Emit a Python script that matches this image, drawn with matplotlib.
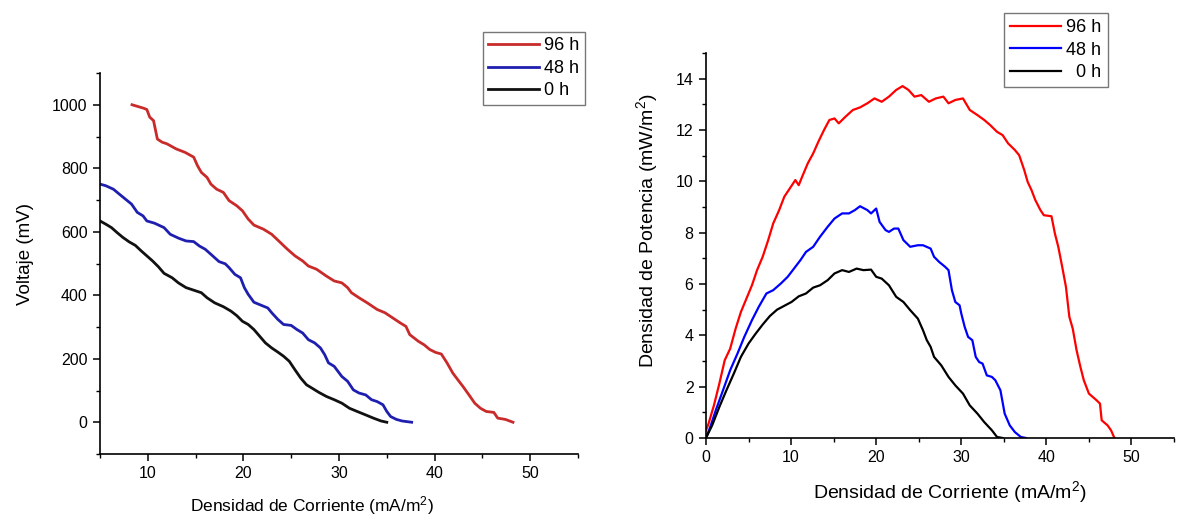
import matplotlib
matplotlib.use("Agg")
import matplotlib.pyplot as plt
from matplotlib.ticker import MultipleLocator

plt.rcParams['font.family'] = ['Liberation Sans', 'DejaVu Sans']
plt.rcParams['mathtext.fontset'] = 'custom'
plt.rcParams['mathtext.rm'] = 'Liberation Sans'
plt.rcParams['mathtext.it'] = 'Liberation Sans:italic'

labels = ["96 h", "48 h", "0 h"]

# ---- Left panel: Voltage (mV) vs current density (mA/m2) ----
v96_x = [8.35, 9.57, 9.9, 10.2, 10.6, 11.0, 11.5, 12.0, 12.96, 13.9, 14.8, 15.2, 15.6, 16.2, 16.6,
         17.2, 17.9, 18.5, 19.3, 19.9, 20.5, 21.1, 22.1, 22.96, 23.8, 24.6, 25.4, 26.2, 26.8, 27.65,
         28.7, 29.5, 30.3, 30.9, 31.3, 32.1, 32.96, 34.0, 34.8, 35.6, 36.4, 37.0, 37.4, 38.3, 38.9,
         39.5, 40.1, 40.7, 41.3, 41.9, 42.55, 42.96, 43.6, 44.2, 44.8, 45.4, 46.2, 46.6, 47.4, 48.2]
v96_y = [1000, 989, 985, 961, 950, 892, 882, 877, 861, 850, 835, 808, 787, 771, 750,
         734, 724, 698, 682, 666, 640, 621, 608, 592, 568, 545, 524, 508, 492, 482,
         460, 445, 439, 424, 408, 392, 376, 355, 345, 329, 313, 302, 276, 255, 244,
         229, 220, 215, 187, 155, 129, 113, 86, 60, 44, 34, 31, 13, 9, 0]

v48_x = [5.0, 5.6, 6.4, 7.0, 7.65, 8.3, 8.9, 9.5, 9.9, 10.7, 11.7, 12.35, 13.2, 14.0, 14.8,
         15.4, 16.0, 16.6, 17.45, 18.1, 18.5, 19.1, 19.7, 20.1, 20.5, 21.1, 21.9, 22.55, 22.96,
         23.6, 24.2, 25.0, 25.6, 26.2, 26.8, 27.45, 28.06, 28.5, 28.9, 29.5, 29.9, 30.3, 30.9,
         31.5, 32.1, 32.8, 33.4, 34.0, 34.6, 35.0, 35.4, 36.0, 36.6, 37.6]
v48_y = [750, 745, 734, 719, 703, 687, 661, 650, 634, 627, 613, 592, 580, 571, 569,
         555, 545, 529, 506, 499, 487, 466, 455, 424, 403, 378, 368, 360, 345,
         324, 308, 305, 292, 281, 260, 250, 234, 213, 187, 176, 160, 144, 129,
         102, 92, 86, 71, 65, 55, 34, 18, 9, 4, 0]

v0_x = [5.0, 5.6, 6.2, 6.8, 7.4, 8.06, 8.7, 9.3, 9.9, 10.5, 11.1, 11.7, 12.55, 13.2, 14.0,
        14.8, 15.6, 16.2, 17.0, 17.9, 18.7, 19.3, 19.9, 20.5, 21.1, 21.7, 22.3, 22.96, 23.6,
        24.2, 24.8, 25.4, 26.0, 26.6, 27.2, 27.9, 28.7, 29.5, 30.3, 31.1, 31.9, 32.8, 33.6,
        34.4, 35.0]
v0_y = [634, 624, 613, 597, 582, 568, 557, 540, 524, 508, 490, 469, 455, 439, 424,
        416, 408, 392, 376, 364, 350, 336, 318, 308, 292, 271, 250, 234, 221,
        208, 192, 165, 139, 118, 107, 94, 81, 71, 60, 44, 34, 23, 13,
        4, 0]

# ---- Right panel: Power density (mW/m2) vs current density (mA/m2) ----
p96_x = [0, 0.3, 0.93, 1.57, 2.2, 2.84, 3.48, 4.1, 4.75, 5.4, 6.0, 6.66, 7.3, 7.9, 8.6, 9.2,
         9.84, 10.5, 10.9, 11.3, 11.96, 12.6, 13.2, 13.87, 14.5, 15.1, 15.6, 16.4, 17.26, 18.1,
         18.96, 19.8, 20.65, 21.5, 22.35, 23.1, 23.8, 24.5, 25.3, 26.2, 27.0, 27.9, 28.5, 29.3,
         30.2, 31.0, 31.9, 32.7, 33.4, 34.2, 34.86, 35.5, 36.3, 36.8, 37.4, 37.8, 38.25, 38.7,
         39.3, 39.7, 40.6, 41.0, 41.4, 41.86, 42.3, 42.7, 43.1, 43.55, 44.0, 44.4, 45.0, 45.9,
         46.3, 46.5, 47.2, 47.6, 48.0]
p96_y = [0.3, 0.56, 1.27, 2.12, 3.03, 3.48, 4.26, 4.91, 5.43, 5.95, 6.54, 7.06, 7.7, 8.36, 8.88, 9.4,
         9.72, 10.05, 9.85, 10.18, 10.7, 11.09, 11.54, 12.0, 12.39, 12.45, 12.26, 12.52, 12.78, 12.88,
         13.04, 13.23, 13.1, 13.3, 13.56, 13.71, 13.56, 13.3, 13.36, 13.1, 13.23, 13.3, 13.04, 13.17,
         13.23, 12.78, 12.58, 12.39, 12.19, 11.93, 11.8, 11.48, 11.22, 11.02, 10.44, 9.98, 9.66, 9.27,
         8.88, 8.68, 8.64, 7.97, 7.45, 6.67, 5.89, 4.72, 4.26, 3.42, 2.77, 2.25, 1.73, 1.47,
         1.34, 0.69, 0.49, 0.3, 0]

p48_x = [0, 0.5, 1.15, 2.0, 2.84, 3.7, 4.5, 5.4, 6.2, 7.1, 7.9, 8.8, 9.6, 10.5, 11.1, 11.75,
         12.6, 13.4, 14.3, 15.1, 16.0, 16.8, 17.5, 18.1, 18.96, 19.4, 20.0, 20.4, 21.1, 21.5,
         22.1, 22.6, 23.2, 24.0, 24.9, 25.5, 26.4, 26.8, 27.4, 28.1, 28.5, 28.9, 29.3, 29.8,
         30.0, 30.4, 30.8, 31.3, 31.7, 32.1, 32.5, 33.0, 33.6, 34.0, 34.6, 35.1, 35.7, 36.3,
         37.0, 37.6]
p48_y = [0, 0.43, 1.08, 1.86, 2.64, 3.29, 3.94, 4.59, 5.11, 5.63, 5.76, 6.02, 6.28, 6.67, 6.93, 7.25,
         7.45, 7.84, 8.23, 8.55, 8.75, 8.75, 8.88, 9.03, 8.88, 8.75, 8.94, 8.42, 8.1, 8.03,
         8.16, 8.16, 7.71, 7.45, 7.51, 7.51, 7.38, 7.06, 6.86, 6.67, 6.54, 5.76, 5.3, 5.17,
         4.85, 4.33, 3.94, 3.81, 3.16, 2.96, 2.9, 2.44, 2.38, 2.25, 1.86, 0.95, 0.49, 0.23,
         0.04, 0]

p0_x = [0, 0.72, 1.57, 2.4, 3.27, 4.1, 5.0, 5.8, 6.66, 7.5, 8.35, 9.2, 10.05, 10.9, 11.75,
        12.6, 13.4, 14.3, 15.1, 16.0, 16.8, 17.7, 18.5, 19.4, 20.0, 20.65, 21.5, 22.35, 23.2,
        24.0, 24.9, 25.5, 25.95, 26.4, 26.8, 27.65, 28.5, 29.3, 30.2, 31.0, 31.9, 32.7, 33.6,
        34.2, 34.86]
p0_y = [0, 0.49, 1.21, 1.86, 2.51, 3.16, 3.68, 4.05, 4.42, 4.75, 5.0, 5.15, 5.3, 5.52, 5.63,
        5.86, 5.95, 6.15, 6.41, 6.54, 6.47, 6.6, 6.54, 6.56, 6.28, 6.21, 5.95, 5.5, 5.3,
        4.98, 4.65, 4.2, 3.81, 3.55, 3.16, 2.83, 2.38, 2.05, 1.73, 1.27, 0.95, 0.62, 0.3,
        0.04, 0]

left_colors = ['#c92a2a', '#1f1faf', '#111111']
right_colors = ['#ff0000', '#0000ff', '#000000']

fig = plt.figure(figsize=(11.78, 5.15), dpi=100)
fig.patch.set_facecolor('white')

W, H = 1178, 515
axL = fig.add_axes([100 / W, (H - 454) / H, 478 / W, 381 / H])
axR = fig.add_axes([706 / W, (H - 438) / H, 468 / W, 385 / H])


def style(ax, tick_fs):
    for s in ['top', 'right']:
        ax.spines[s].set_visible(False)
    for s in ['left', 'bottom']:
        ax.spines[s].set_linewidth(1.2)
    ax.tick_params(which='major', direction='out', length=5, width=1.1,
                   labelsize=tick_fs, pad=4)
    ax.tick_params(which='minor', direction='out', length=3, width=1.0)


# Left
for xs, ys, c, lab in zip([v96_x, v48_x, v0_x], [v96_y, v48_y, v0_y], left_colors, labels):
    axL.plot(xs, ys, color=c, lw=2.0, label=lab)
axL.set_xlim(5, 55)
axL.set_ylim(-100, 1100)
axL.xaxis.set_major_locator(MultipleLocator(10))
axL.xaxis.set_minor_locator(MultipleLocator(5))
axL.yaxis.set_major_locator(MultipleLocator(200))
axL.yaxis.set_minor_locator(MultipleLocator(100))
style(axL, 11.5)
axL.set_xticks([10, 20, 30, 40, 50])
axL.text(0.444, -0.134, r'Densidad de Corriente (mA/m$^{2}$)', transform=axL.transAxes,
         ha='center', va='center', fontsize=12.5)
axL.text(-0.155, 0.526, 'Voltaje (mV)', transform=axL.transAxes, rotation=90,
         ha='center', va='center', fontsize=13.5)
legL = fig.legend(handles=axL.get_lines(), labels=labels, loc='upper right',
                  bbox_to_anchor=(585 / W, 1 - 32 / H), fontsize=13, frameon=True,
                  fancybox=False, handlelength=2.8, handletextpad=0.3, labelspacing=0.3,
                  borderpad=0.3, borderaxespad=0)
legL.get_frame().set_edgecolor('#555555')
legL.get_frame().set_linewidth(1.0)

# Right
for xs, ys, c, lab in zip([p96_x, p48_x, p0_x], [p96_y, p48_y, p0_y], right_colors, labels):
    axR.plot(xs, ys, color=c, lw=1.6, label=lab)
axR.set_xlim(0, 55)
axR.set_ylim(0, 15)
axR.xaxis.set_major_locator(MultipleLocator(10))
axR.xaxis.set_minor_locator(MultipleLocator(5))
axR.yaxis.set_major_locator(MultipleLocator(2))
axR.yaxis.set_minor_locator(MultipleLocator(1))
style(axR, 11.5)
axR.set_xticks([0, 10, 20, 30, 40, 50])
axR.set_yticks([0, 2, 4, 6, 8, 10, 12, 14])
axR.text(0.521, -0.140, r'Densidad de Corriente (mA/m$^{2}$)', transform=axR.transAxes,
         ha='center', va='center', fontsize=14)
axR.text(-0.126, 0.538, r'Densidad de Potencia (mW/m$^{2}$)', transform=axR.transAxes,
         rotation=90, ha='center', va='center', fontsize=14)
legR = fig.legend(handles=axR.get_lines(), labels=["96 h", "48 h", "\u20070 h"],
                  loc='upper right', bbox_to_anchor=(1108 / W, 1 - 13 / H), fontsize=13,
                  frameon=True, fancybox=False, handlelength=2.8, handletextpad=0.3,
                  labelspacing=0.3, borderpad=0.35, borderaxespad=0)
legR.get_frame().set_edgecolor('#555555')
legR.get_frame().set_linewidth(1.0)

fig.savefig('out.png', dpi=100, facecolor='white')
